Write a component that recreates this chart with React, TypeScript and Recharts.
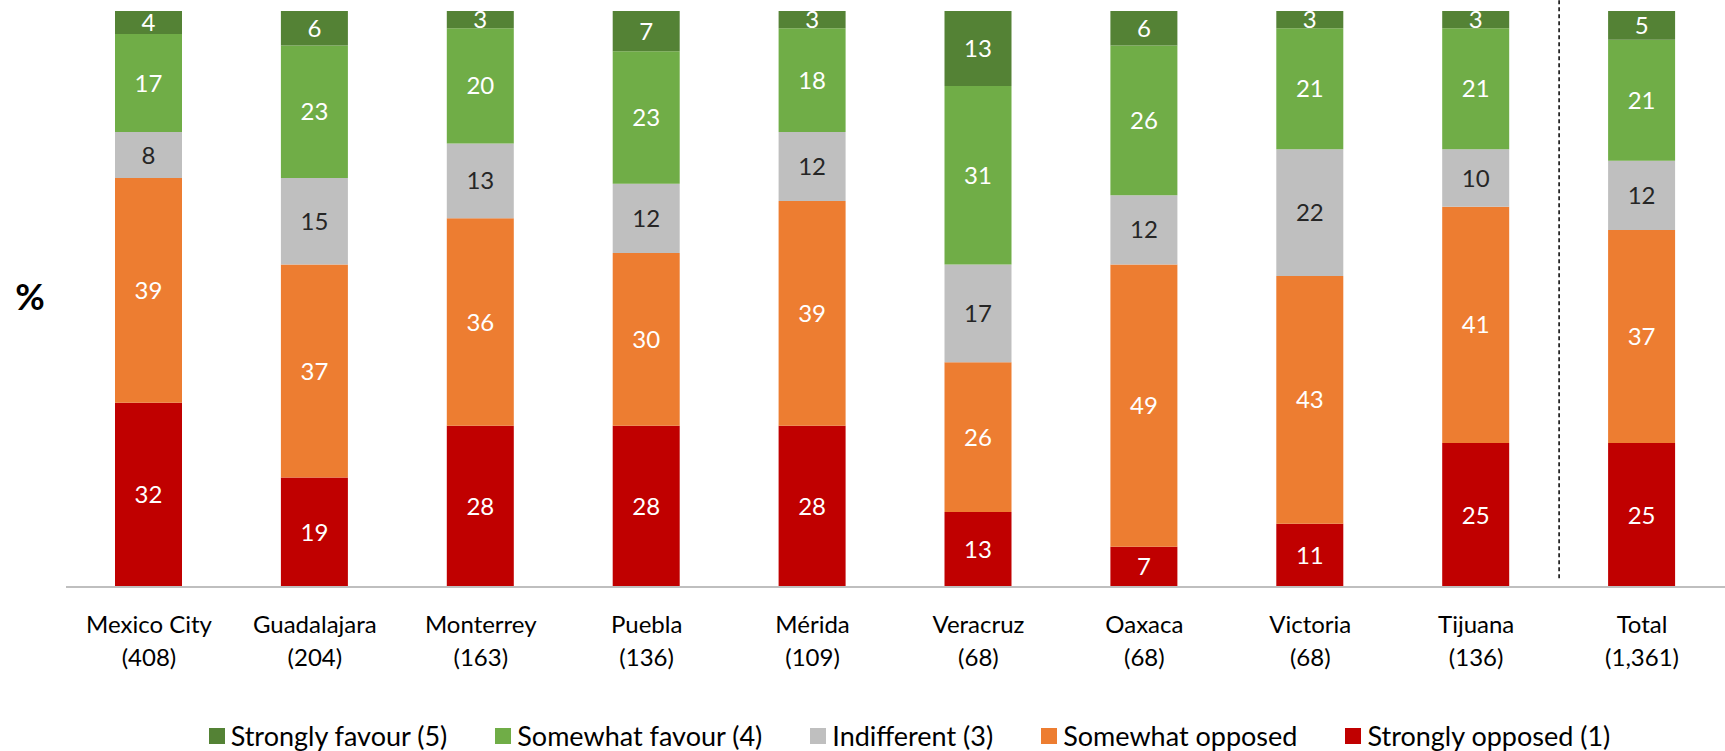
import React from 'react';
import { BarChart, Bar, XAxis, YAxis, Legend, LabelList, ReferenceLine } from 'recharts';

const cities = ['Mexico City', 'Guadalajara', 'Monterrey', 'Puebla', 'Mérida', 'Veracruz', 'Oaxaca', 'Victoria', 'Tijuana', 'Total'];
const sampleSizes = ['408', '204', '163', '136', '109', '68', '68', '68', '136', '1,361'];

const stronglyFavour = [4, 6, 3, 7, 3, 13, 6, 3, 3, 5];
const somewhatFavour = [17, 23, 20, 23, 18, 31, 26, 21, 21, 21];
const indifferent = [8, 15, 13, 12, 12, 17, 12, 22, 10, 12];
const somewhatOpposed = [39, 37, 36, 30, 39, 26, 49, 43, 41, 37];
const stronglyOpposed = [32, 19, 28, 28, 28, 13, 7, 11, 25, 25];

const FONT = 'Lato, "Open Sans", sans-serif';

// stacked bottom -> top
const series = [
  { key: 'opp1', name: 'Strongly opposed (1)', color: '#C00000', text: '#FFFFFF', values: stronglyOpposed },
  { key: 'opp2', name: 'Somewhat opposed', color: '#ED7D31', text: '#FFFFFF', values: somewhatOpposed },
  { key: 'ind3', name: 'Indifferent (3)', color: '#BFBFBF', text: '#262626', values: indifferent },
  { key: 'fav4', name: 'Somewhat favour (4)', color: '#70AD47', text: '#FFFFFF', values: somewhatFavour },
  { key: 'fav5', name: 'Strongly favour (5)', color: '#548235', text: '#FFFFFF', values: stronglyFavour },
];

const data = cities.map((city, i) => {
  const row: Record<string, string | number> = { city, n: sampleSizes[i] };
  series.forEach((s) => {
    row[s.key] = s.values[i];
  });
  return row;
});

const CityTick = (props: any) => {
  const { x, y, payload, index } = props;
  return (
    <g transform={`translate(${x},${y})`}>
      <text textAnchor="middle" fill="#000" fontSize={24} fontFamily={FONT}>
        <tspan x={0} dy={38}>{payload.value}</tspan>
        <tspan x={0} dy={33}>({sampleSizes[index]})</tspan>
      </text>
    </g>
  );
};

const renderLegend = () => {
  const items = [...series].reverse();
  return (
    <div style={{ display: 'flex', justifyContent: 'center', gap: 48, paddingLeft: 94, fontFamily: FONT, fontSize: 27, color: '#000' }}>
      {items.map((s) => (
        <div key={s.key} style={{ display: 'flex', alignItems: 'center' }}>
          <span style={{ width: 16, height: 16, background: s.color, marginRight: 6, display: 'inline-block' }} />
          <span>{s.name}</span>
        </div>
      ))}
    </div>
  );
};

const App: React.FC = () => {
  return (
    <div style={{ position: 'absolute', left: 0, top: 0, width: 1725, height: 751, background: '#fff' }}>
      <BarChart width={1725} height={751} data={data} margin={{ top: 11, right: 0, left: 0, bottom: 0 }} barSize={67}>
        <XAxis
          dataKey="city"
          height={132}
          interval={0}
          tickLine={false}
          axisLine={{ stroke: '#BFBFBF', strokeWidth: 2 }}
          tick={<CityTick />}
        />
        <YAxis
          domain={[0, 100]}
          width={66}
          tick={false}
          tickLine={false}
          axisLine={false}
          label={{ value: '%', position: 'center', dx: -3, dy: -2, style: { fontSize: 36, fontWeight: 700, fontFamily: FONT, fill: '#000' } }}
        />
        {series.map((s) => (
          <Bar key={s.key} dataKey={s.key} name={s.name} stackId="a" fill={s.color} isAnimationActive={false}>
            <LabelList dataKey={s.key} position="center" fill={s.text} fontSize={24} fontFamily={FONT} />
          </Bar>
        ))}
        <ReferenceLine
          segment={[{ x: 'Total', y: 1.5 }, { x: 'Total', y: 101.9 }]}
          position="start"
          stroke="#000"
          strokeWidth={1.5}
          strokeDasharray="4 3"
          ifOverflow="visible"
        />
        <Legend verticalAlign="bottom" height={32} content={renderLegend} />
      </BarChart>
    </div>
  );
};

export default App;
